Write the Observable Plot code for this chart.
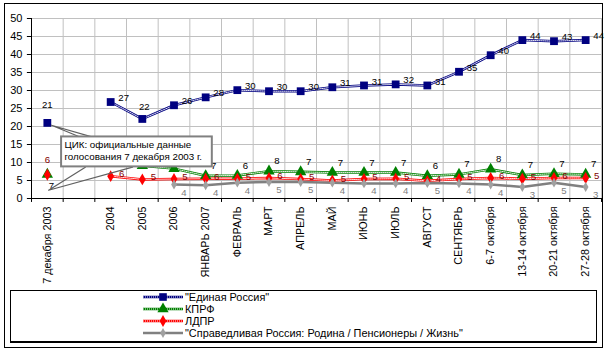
<!DOCTYPE html>
<html><head><meta charset="utf-8">
<script src="https://cdn.jsdelivr.net/npm/d3@7"></script>
<script src="https://cdn.jsdelivr.net/npm/@observablehq/plot@0.6"></script>
<style>
body{margin:0;background:#fff;font-family:Arial,"Liberation Sans",sans-serif;}
#frame{position:absolute;left:4px;top:3px;width:597px;height:343px;border:1px solid #000;}
#chart{position:absolute;left:0;top:0;}
#legend{position:absolute;left:10px;top:290px;width:585px;height:50px;border:1px solid #000;border-bottom-width:2px;background:#fff;}
#legend svg{display:block}
</style></head><body>
<div id="frame"></div><div id="chart"></div><div id="legend"></div>
<script>
const categories = ["7 декабря 2003","","2004","2005","2006","ЯНВАРЬ 2007","ФЕВРАЛЬ","МАРТ","АПРЕЛЬ","МАЙ","ИЮНЬ","ИЮЛЬ","АВГУСТ","СЕНТЯБРЬ","6-7 октября","13-14 октября","20-21 октября","27-28 октября"];
const seriesNames = ["\"Единая Россия\"","КПРФ","ЛДПР","\"Справедливая Россия: Родина / Пенсионеры / Жизнь\""];
const er =       [21,null,26.8,22.1,25.9,28.1,30.1,29.8,29.8,30.9,31.4,31.7,31.4,35.2,39.8,44,43.7,44];
const erLabels = ["21","","27","22","26","28","30","30","30","31","31","32","31","35","40","44","43","44"];
const kprf =       [6.7,null,null,9.1,8.3,6.3,6.4,7.6,7.4,7.2,7.2,7.2,6.3,6.7,8.1,6.5,6.9,6.7];
const kprfLabels = ["7","","","","","7","6","8","7","7","7","7","6","7","8","7","7","7"];
const ldpr =       [6.6,null,6.2,5.3,5.4,5.5,5.5,5.7,5.4,5.0,5.4,5.5,4.9,5.4,5.7,5.5,5.7,5.7];
const ldprLabels = ["6","","6","5","5","6","5","6","5","5","5","5","4","5","6","5","6","5"];
const sr =       [null,null,null,null,3.9,3.7,4.4,4.6,4.6,4.4,4.2,4.2,4.3,4.2,3.9,3.2,4.4,3.2];
const srLabels = ["","","","","4","4","4","5","5","4","4","4","5","4","4","3","5","3"];
const yTicks = [0,5,10,15,20,25,30,35,40,45,50];
const calloutText = ["ЦИК: официальные данные","голосования 7 декабря 2003 г."];

const colors = {er:"#000080", kprf:"#008000", ldpr:"#FF0000", sr:"#808080"};
const rows = (vals, labels) => vals.map((v,i)=>({i, x:i+0.5, v, label:labels[i]}));
const R = {er:rows(er,erLabels), kprf:rows(kprf,kprfLabels), ldpr:rows(ldpr,ldprLabels), sr:rows(sr,srLabels)};
const def = arr => arr.filter(d=>d.v!=null);
const lab = arr => arr.filter(d=>d.v!=null && d.label);
const cats = categories.map((c,i)=>({x:i+0.5, c}));
const bounds = d3.range(0,19);

function patternLine(data, color){
  return [
    Plot.line(data,{x:"x",y:"v",stroke:color,strokeWidth:2.5}),
    Plot.line(data,{x:"x",y:"v",stroke:"white",strokeWidth:0.9,strokeDasharray:"1,1"})
  ];
}

const chart = Plot.plot({
  width:609, height:290,
  marginLeft:31, marginRight:8, marginTop:18, marginBottom:92,
  style:{fontFamily:"Arial, 'Liberation Sans', sans-serif", fontSize:"10.5px", background:"transparent", overflow:"visible"},
  x:{type:"linear", domain:[0,18], axis:null},
  y:{type:"linear", domain:[0,50], axis:null},
  marks:[
    Plot.ruleY(yTicks.slice(1),{stroke:"#C0C0C0",strokeWidth:1}),
    Plot.ruleX(bounds.slice(1),{y1:0,y2:50,stroke:"#C0C0C0",strokeWidth:1}),
    Plot.ruleX(bounds,{y1:0,y2:-1.1,stroke:"#000",strokeWidth:1}),
    Plot.ruleY(yTicks,{x1:0,x2:-0.13,stroke:"#000",strokeWidth:1}),
    Plot.text(yTicks,{x:0,y:d=>d,text:d=>String(d),textAnchor:"end",dx:-9,fontSize:11,fill:"#000"}),
    Plot.ruleX([0],{y1:0,y2:50,stroke:"#000"}),
    Plot.ruleY([0],{stroke:"#000"}),
    Plot.text(cats,{x:"x",y:0,text:"c",rotate:-90,textAnchor:"end",dy:8,fontSize:10.8,fill:"#000"}),
    ...patternLine(R.er, colors.er),
    ...patternLine(R.kprf, colors.kprf),
    ...patternLine(R.ldpr, colors.ldpr),
    Plot.line(R.sr,{x:"x",y:"v",stroke:colors.sr,strokeWidth:2.5}),
    Plot.dot(def(R.er),{x:"x",y:"v",symbol:"square",r:4.4,fill:colors.er,stroke:"none"}),
    Plot.dot(def(R.kprf),{x:"x",y:"v",symbol:"triangle",r:4.2,fill:colors.kprf,stroke:"none"}),
    Plot.dot(def(R.ldpr),{x:"x",y:"v",symbol:"diamond",r:3.6,fill:colors.ldpr,stroke:"none"}),
    Plot.dot(def(R.sr),{x:"x",y:"v",symbol:"diamond",r:3,fill:"#A0A0A0",stroke:"none"}),
    // data labels
    Plot.text(lab(R.er).filter(d=>d.i>3||d.i==2),{x:"x",y:"v",text:"label",dx:13,dy:-4,fontSize:9.6,fill:"#000"}),
    Plot.text(lab(R.er).filter(d=>d.i==0),{x:"x",y:"v",text:"label",dx:0,dy:-18,fontSize:9.6,fill:"#000"}),
    Plot.text(lab(R.er).filter(d=>d.i==3),{x:"x",y:"v",text:"label",dx:2,dy:-12,fontSize:9.6,fill:"#000"}),
    Plot.text(lab(R.kprf).filter(d=>d.i>0),{x:"x",y:"v",text:"label",dx:8,dy:-10,fontSize:9.6,fill:"#000"}),
    Plot.text(lab(R.kprf).filter(d=>d.i==0),{x:"x",y:"v",text:"label",dx:4,dy:12,fontSize:9.6,fill:"#000"}),
    Plot.text(lab(R.ldpr).filter(d=>d.i>0),{x:"x",y:"v",text:"label",dx:11,dy:-2,fontSize:9.6,fill:"#800000"}),
    Plot.text(lab(R.ldpr).filter(d=>d.i==0),{x:"x",y:"v",text:"label",dx:0,dy:-15,fontSize:9.6,fill:"#800000"}),
    Plot.text(lab(R.sr),{x:"x",y:"v",text:"label",dx:10,dy:8,fontSize:9.6,fill:"#808080"}),
    // callout (annotation in data units)
    Plot.line([{x:0.63,y:20.35},{x:1.55,y:17},{x:1.96,y:17},{x:0.63,y:20.35}],{x:"x",y:"y",stroke:"#606060",strokeWidth:1.2,fill:"white"}),
    Plot.line([{x:1.70,y:8.7},{x:0.54,y:2.3},{x:3.19,y:8.7}],{x:"x",y:"y",stroke:"#606060",strokeWidth:1.2}),
    Plot.rect([{x1:0.95,x2:5.71,y1:8.78,y2:17.1}],{x1:"x1",x2:"x2",y1:"y1",y2:"y2",fill:"white",stroke:"#808080",strokeWidth:2}),
    Plot.text(calloutText.map((t,k)=>({t,k})),{x:()=>1.04,y:d=>14.8-d.k*3.3,text:"t",textAnchor:"start",fontSize:9.8,fill:"#000"})
  ]
});
document.getElementById("chart").appendChild(chart);

// legend
const legColors = [colors.er, colors.kprf, colors.ldpr, colors.sr];
const legSym = ["square","triangle","diamond","diamond"];
const lsvg = d3.create("svg").attr("width",585).attr("height",50)
  .style("font-family","Arial, 'Liberation Sans', sans-serif").style("font-size","10.9px");
seriesNames.forEach((name,k)=>{
  const y = 6 + k*12;
  const g = lsvg.append("g");
  if(k<3){
    g.append("line").attr("x1",132).attr("x2",172).attr("y1",y).attr("y2",y).attr("stroke",legColors[k]).attr("stroke-width",2.5);
    g.append("line").attr("x1",132).attr("x2",172).attr("y1",y).attr("y2",y).attr("stroke","white").attr("stroke-width",0.9).attr("stroke-dasharray","1,1");
  } else {
    g.append("line").attr("x1",132).attr("x2",172).attr("y1",y).attr("y2",y).attr("stroke",colors.sr).attr("stroke-width",2.5);
  }
  const sym = {square:d3.symbolSquare,triangle:d3.symbolTriangle,diamond:d3.symbolDiamond}[legSym[k]];
  const size = k==0?58:k==1?55:k==2?40:28;
  g.append("path").attr("d",d3.symbol(sym,size)()).attr("transform",`translate(152,${y})`).attr("fill",k==3?"#A0A0A0":legColors[k]);
  g.append("text").attr("x",174).attr("y",y).attr("dy","0.35em").text(name);
});
document.getElementById("legend").appendChild(lsvg.node());
</script>
</body></html>
